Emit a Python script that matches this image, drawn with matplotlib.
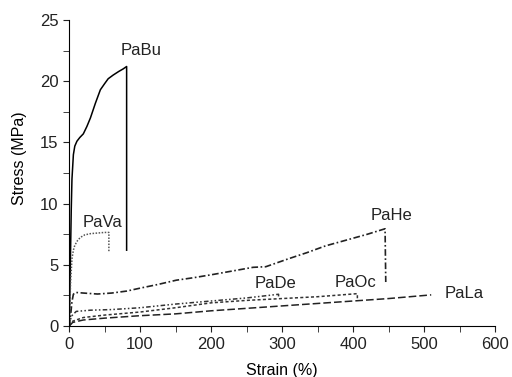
import numpy as np
import matplotlib
matplotlib.use("Agg")
from matplotlib import pyplot as plt

plt.rcParams['font.family'] = ['Liberation Sans', 'DejaVu Sans']

# stress-strain curves (strain in %, stress in MPa)
bu_strain = [0, 0.5, 2, 3, 4, 6, 8, 11, 15, 20, 25, 30, 37, 44, 50, 55, 62, 70, 76, 81, 81]
bu_stress = [0, 1, 6, 9.5, 12, 14.0, 14.7, 15.1, 15.4, 15.7, 16.3, 17.0, 18.2, 19.3, 19.8, 20.2, 20.5, 20.8, 21.0, 21.2, 6.2]

va_strain = [0, 1, 2, 4, 6, 8, 12, 16, 22, 30, 40, 50, 56, 56]
va_stress = [0, 1.5, 3.5, 5.5, 6.2, 6.6, 7.0, 7.25, 7.45, 7.55, 7.6, 7.65, 7.65, 6.0]

he_strain = [0, 2, 4, 6, 9, 20, 40, 60, 81, 100, 125, 151, 175, 201, 230, 259, 277, 309, 335, 361, 389, 420, 445, 446]
he_stress = [0, 0.8, 2.0, 2.6, 2.75, 2.7, 2.62, 2.7, 2.86, 3.1, 3.4, 3.75, 3.95, 4.2, 4.5, 4.8, 4.85, 5.5, 6.0, 6.55, 7.0, 7.5, 7.95, 3.6]

de_strain = [0, 3, 10, 30, 60, 100, 150, 200, 250, 295, 295]
de_stress = [0, 0.8, 1.2, 1.3, 1.35, 1.5, 1.8, 2.05, 2.3, 2.6, 2.3]

oc_strain = [0, 5, 20, 50, 100, 150, 200, 250, 300, 350, 406, 406]
oc_stress = [0, 0.4, 0.7, 0.9, 1.15, 1.5, 1.9, 2.1, 2.25, 2.4, 2.65, 2.15]

la_strain = [0, 5, 20, 50, 100, 150, 200, 250, 300, 350, 400, 450, 510]
la_stress = [0, 0.3, 0.5, 0.65, 0.85, 1.0, 1.25, 1.45, 1.65, 1.85, 2.05, 2.25, 2.55]

names = ["PaBu", "PaVa", "PaHe", "PaDe", "PaOc", "PaLa"]
label_x = [101, 47, 454, 290, 404, 556]
label_y = [22.5, 8.5, 9.0, 3.5, 3.6, 2.7]

fig = plt.figure(figsize=(5.12, 3.77), dpi=100)
ax = fig.add_axes([0.135, 0.135, 0.832, 0.812])

ax.plot(bu_strain, bu_stress, color='black', lw=1.1, ls='-')
ax.plot(va_strain, va_stress, color='#555555', lw=1.1, ls=(0, (1, 1)))
ax.plot(he_strain, he_stress, color='#222222', lw=1.2, ls=(0, (4, 1.5, 1, 1.5)))
ax.plot(de_strain, de_stress, color='#333333', lw=1.1, ls=(0, (3, 1.5, 1, 1.5, 1, 1.5)))
ax.plot(oc_strain, oc_stress, color='#333333', lw=1.1, ls=(0, (2, 1.5)))
ax.plot(la_strain, la_stress, color='#222222', lw=1.1, ls=(0, (5, 2)))

for n, x, y in zip(names, label_x, label_y):
    ax.text(x, y, n, fontsize=12, ha='center', va='center', color='#222222')

ax.set_xlim(0, 600)
ax.set_ylim(0, 25)
ax.set_xticks(np.arange(0, 601, 100))
ax.set_xticks(np.arange(0, 601, 50), minor=True)
ax.set_yticks(np.arange(0, 26, 5))
ax.set_yticks(np.arange(0, 26, 2.5), minor=True)
ax.tick_params(which='both', direction='out', labelsize=12, colors='#222222', length=4)
ax.spines['top'].set_visible(False)
ax.spines['right'].set_visible(False)
ax.set_xlabel("Strain (%)", fontsize=11.5)
ax.set_ylabel("Stress (MPa)", fontsize=11.5)
ax.xaxis.set_label_coords(0.5, -0.12)
ax.yaxis.set_label_coords(-0.1, 0.55)

fig.savefig("out.png", dpi=100)
